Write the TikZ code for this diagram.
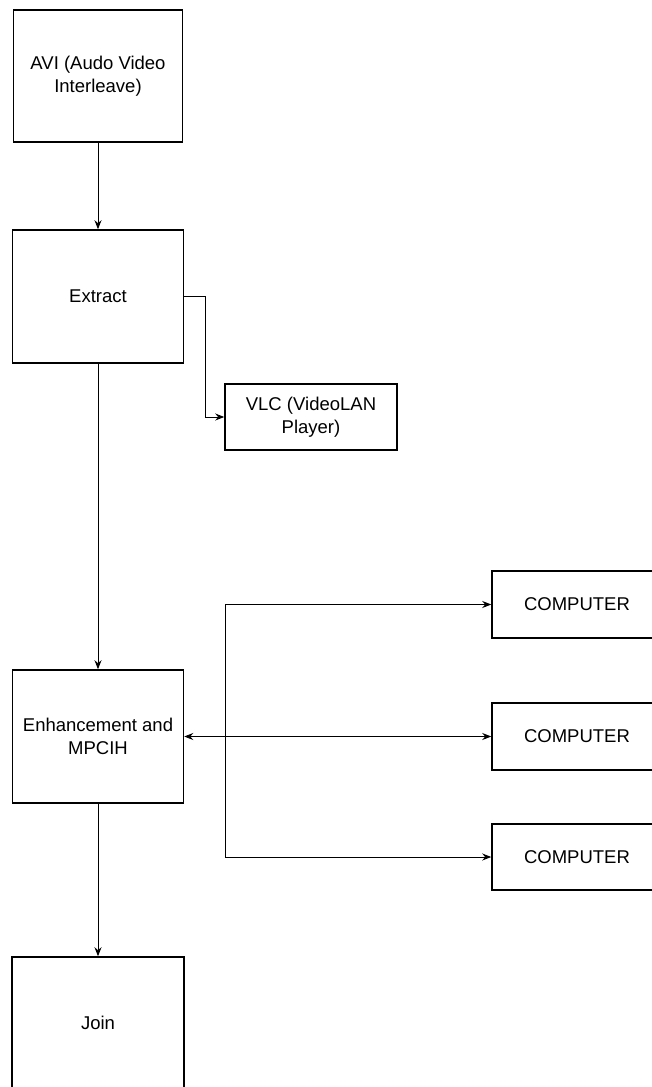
\documentclass[tikz,border=0pt]{standalone}
\usepackage{fontspec}
\setmainfont{Liberation Sans}
\usetikzlibrary{arrows.meta}
\begin{document}
\begin{tikzpicture}[x=1pt,y=-1pt,
  block/.style={draw=black, line width=1.5pt, rectangle, inner sep=0pt,
    align=center, font=\fontsize{18.5}{23}\selectfont},
  link/.style={draw=black, line width=0.9pt},
  arr/.style={link, -{Stealth[length=9pt,width=7pt]}},
  arrboth/.style={link, {Stealth[length=9pt,width=7pt]}-{Stealth[length=9pt,width=7pt]}}]
\useasboundingbox (0,0) rectangle (652,1087);

% main column
\node[block, minimum width=169pt, minimum height=132pt] (avi) at (98,76)
  {AVI (Audo Video\\Interleave)};
\node[block, minimum width=171pt, minimum height=133pt] (extract) at (98,296.5)
  {Extract};
\node[block, minimum width=171pt, minimum height=133pt] (enh) at (98,736.5)
  {Enhancement and\\MPCIH};
\node[block, minimum width=172pt, minimum height=132pt] (join) at (98,1023)
  {Join};

% side player
\node[block, minimum width=172pt, minimum height=66pt] (vlc) at (311,417)
  {VLC (VideoLAN\\Player)};

% computers
\node[block, minimum width=170pt, minimum height=67pt] (comp1) at (577,604.5)
  {COMPUTER};
\node[block, minimum width=170pt, minimum height=67pt] (comp2) at (577,736.5)
  {COMPUTER};
\node[block, minimum width=170pt, minimum height=66pt] (comp3) at (577,857)
  {COMPUTER};

% connectors
\draw[arr] (avi) -- (extract);
\draw[arr] (extract) -- (enh);
\draw[arr] (enh) -- (join);

\coordinate (bend) at (205,296.5);
\draw[arr] (extract.east) -- (bend) |- (vlc.west);

\coordinate (bustop) at (225,604.5);
\coordinate (busbot) at (225,857);
\draw[link] (bustop) -- (busbot);
\draw[arr] (bustop) -- (comp1.west);
\draw[arr] (busbot) -- (comp3.west);
\draw[arrboth] (enh.east) -- (comp2.west);
\end{tikzpicture}
\end{document}
